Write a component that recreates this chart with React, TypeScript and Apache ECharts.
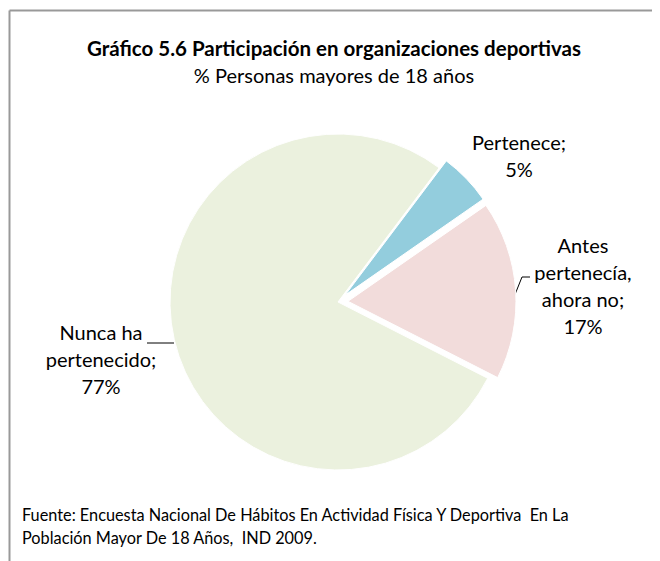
import React, { useEffect, useRef } from "react";
import * as echarts from "echarts";

const categories = ["Pertenece", "Antes\npertenecía,\nahora no", "Nunca ha\npertenecido"];
const values = [5, 17, 77];
const colors = ["#93CDDD", "#F2DCDB", "#EBF1DE"];
const explodeOffsets = [10, 10, 0];

const titleText = "Gráfico 5.6 Participación en organizaciones deportivas";
const subtitleText = "% Personas mayores de 18 años";
const sourceLines = [
  "Fuente: Encuesta Nacional De Hábitos En Actividad Física Y Deportiva  En La",
  "Población Mayor De 18 Años,  IND 2009.",
];

const FONT = "Lato, 'Open Sans', sans-serif";

const CENTER = [330, 294];
const RADIUS = 168;
const START_ANGLE = 53;

export default function App() {
  const ref = useRef<HTMLDivElement>(null);
  useEffect(() => {
    if (!ref.current) return;
    const chart = echarts.init(ref.current, undefined, { renderer: "svg" });
    const labelPos: Record<number, { x: number; y: number }> = {
      0: { x: 511, y: 147 },
      1: { x: 575, y: 277 },
      2: { x: 93, y: 351 },
    };
    const total = values.reduce((a, b) => a + b, 0);
    let acc = 0;
    const series = values.map((v, i) => {
      const mid = START_ANGLE - ((acc + v / 2) / total) * 360;
      acc += v;
      const rad = (mid * Math.PI) / 180;
      const cx = CENTER[0] + explodeOffsets[i] * Math.cos(rad);
      const cy = CENTER[1] - explodeOffsets[i] * Math.sin(rad);
      return {
        type: "pie",
        name: categories[i],
        center: [cx, cy],
        radius: RADIUS,
        startAngle: START_ANGLE,
        clockwise: true,
        silent: true,
        emphasis: { disabled: true },
        z: i === 2 ? 1 : 2,
        itemStyle: { borderColor: "#fff", borderWidth: 1 },
        label: {
          show: true,
          position: "inside",
          formatter: (p: any) => `${p.name};\n${p.value}%`,
          fontFamily: FONT,
          fontSize: 20,
          lineHeight: 27,
          color: "#000",
          align: "center",
        },
        labelLine: { show: false },
        labelLayout: (params: any) => {
          const p = labelPos[params.dataIndex];
          return { x: p.x, y: p.y, align: "center", verticalAlign: "middle" };
        },
        data: categories.map((c, j) => ({
          name: c,
          value: values[j],
          itemStyle: j === i ? { color: colors[j] } : { color: "rgba(0,0,0,0)", borderWidth: 0 },
          label: { show: j === i },
        })),
      };
    });
    chart.setOption({
      animation: false,
      backgroundColor: "#ffffff",
      title: [
        {
          text: titleText,
          left: "center",
          top: 24,
          textStyle: { fontFamily: FONT, fontSize: 20.5, fontWeight: "bold", color: "#000" },
        },
        {
          text: subtitleText,
          left: "center",
          top: 52,
          textStyle: { fontFamily: FONT, fontSize: 20, fontWeight: "normal", color: "#000" },
        },
      ],
      graphic: [
        { type: "line", shape: { x1: 1.5, y1: 2.5, x2: 660, y2: 2.5 }, style: { stroke: "#999", lineWidth: 2 } },
        { type: "line", shape: { x1: 1.5, y1: 2.5, x2: 1.5, y2: 560 }, style: { stroke: "#999", lineWidth: 2 } },
        {
          type: "polyline",
          shape: { points: [[506, 289], [514, 269], [522, 269]] },
          style: { stroke: "#000", lineWidth: 1, fill: "none" },
        },
        {
          type: "line",
          shape: { x1: 139, y1: 335, x2: 166, y2: 335 },
          style: { stroke: "#000", lineWidth: 1 },
        },
        {
          type: "text",
          left: 14,
          top: 495,
          style: {
            text: sourceLines.join("\n"),
            font: `16.3px ${FONT}`,
            lineHeight: 23,
            fill: "#000",
          },
        },
      ],
      series,
    });
    return () => chart.dispose();
  }, []);
  return <div ref={ref} style={{ width: 652, height: 553 }} />;
}
